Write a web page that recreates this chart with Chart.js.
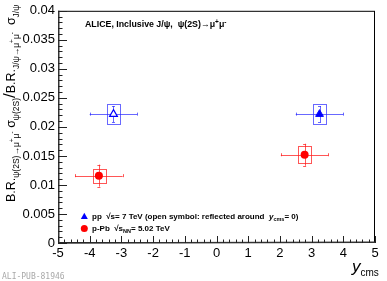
<!DOCTYPE html>
<html><head><meta charset="utf-8">
<script src="https://cdn.jsdelivr.net/npm/chart.js@4/dist/chart.umd.min.js"></script>
<style>html,body{margin:0;padding:0;background:#fff}#c{display:block}</style>
</head><body>
<canvas id="c" width="387" height="281"></canvas>
<script>
// ---- data ----
const ppX      = [-3.25, 3.25];
const ppY      = [0.0222, 0.0222];
const ppStat   = [0.0014, 0.0014];
const ppSyst   = [0.0017, 0.0017];
const ppXLow   = [-4.0, 2.5];
const ppXHigh  = [-2.5, 4.0];
const pPbX     = [-3.71, 2.78];
const pPbY     = [0.0116, 0.0152];
const pPbStat  = [0.0019, 0.0019];
const pPbSyst  = [0.0012, 0.0015];
const pPbXLow  = [-4.46, 2.03];
const pPbXHigh = [-2.96, 3.53];
const systHalfWidth = 0.2;
const xTickValues = [-5,-4,-3,-2,-1,0,1,2,3,4,5];
const yTickValues = [0,0.005,0.01,0.015,0.02,0.025,0.03,0.035,0.04];

const BLUE='#0000ff', BLUEL='rgba(40,40,255,0.7)';
const RED='#ff0000', REDL='rgba(255,30,30,0.75)';
const FONT='"Liberation Sans", Arial, Helvetica, sans-serif';

function seriesPoints(xs, ys){return xs.map((x,i)=>({x:x,y:ys[i]}));}

const errPlugin = {
  id:'err',
  beforeDatasetsDraw(chart){
    const ctx=chart.ctx, xs=chart.scales.x, ys=chart.scales.y;
    function drawSet(X,Y,st,sy,xl,xh,col){
      ctx.save();
      ctx.strokeStyle=col; ctx.lineWidth=1;
      for(let i=0;i<X.length;i++){
        const px=xs.getPixelForValue(X[i]), py=ys.getPixelForValue(Y[i]);
        const bx0=xs.getPixelForValue(X[i]-systHalfWidth), bx1=xs.getPixelForValue(X[i]+systHalfWidth);
        const by0=ys.getPixelForValue(Y[i]+sy[i]), by1=ys.getPixelForValue(Y[i]-sy[i]);
        ctx.strokeRect(Math.round(bx0)+0.5, Math.round(by0)+0.5, Math.round(bx1-bx0), Math.round(by1-by0));
        const hx0=xs.getPixelForValue(xl[i]), hx1=xs.getPixelForValue(xh[i]);
        ctx.beginPath();
        ctx.moveTo(hx0, Math.round(py)+0.5); ctx.lineTo(hx1, Math.round(py)+0.5);
        ctx.moveTo(Math.round(hx0)+0.5, py-1.5); ctx.lineTo(Math.round(hx0)+0.5, py+1.5);
        ctx.moveTo(Math.round(hx1)+0.5, py-1.5); ctx.lineTo(Math.round(hx1)+0.5, py+1.5);
        const vy0=ys.getPixelForValue(Y[i]+st[i]), vy1=ys.getPixelForValue(Y[i]-st[i]);
        ctx.moveTo(Math.round(px)+0.5, vy0); ctx.lineTo(Math.round(px)+0.5, vy1);
        ctx.moveTo(px-1.5, Math.round(vy0)+0.5); ctx.lineTo(px+1.5, Math.round(vy0)+0.5);
        ctx.moveTo(px-1.5, Math.round(vy1)+0.5); ctx.lineTo(px+1.5, Math.round(vy1)+0.5);
        ctx.stroke();
      }
      ctx.restore();
    }
    drawSet(ppX,ppY,ppStat,ppSyst,ppXLow,ppXHigh,BLUEL);
    drawSet(pPbX,pPbY,pPbStat,pPbSyst,pPbXLow,pPbXHigh,REDL);
  }
};

function drawRich(ctx, parts, x, y){
  let cx=x;
  for(const p of parts){
    ctx.font=(p[4]||'')+' '+(p[3]||'normal')+' '+p[1]+'px '+FONT;
    ctx.fillText(p[0], cx, y+(p[2]||0));
    cx+=ctx.measureText(p[0]).width;
  }
  return cx-x;
}
function measureRich(ctx, parts){
  let w=0;
  for(const p of parts){ctx.font=(p[4]||'')+' '+(p[3]||'normal')+' '+p[1]+'px '+FONT; w+=ctx.measureText(p[0]).width;}
  return w;
}

const decoPlugin = {
  id:'deco',
  afterDraw(chart){
    const ctx=chart.ctx, a=chart.chartArea, xs=chart.scales.x, ys=chart.scales.y;
    ctx.save();
    ctx.strokeStyle='#000'; ctx.lineWidth=1;
    ctx.strokeRect(a.left+0.5, a.top+0.5, a.right-a.left-1, a.bottom-a.top-1);
    ctx.strokeStyle='#333'; ctx.lineWidth=1.5;
    ctx.beginPath(); ctx.moveTo(a.left+0.75,a.top); ctx.lineTo(a.left+0.75,a.bottom); ctx.lineTo(a.right,a.bottom-0.75); ctx.stroke();
    ctx.lineWidth=1; ctx.strokeStyle='#222';
    ctx.beginPath();
    for(let v=-5; v<=5.0001; v+=0.2){
      const major=Math.abs(v-Math.round(v))<1e-6;
      const px=Math.round(xs.getPixelForValue(v))+0.5;
      ctx.moveTo(px,a.bottom); ctx.lineTo(px,a.bottom-(major?7:3.5));
    }
    for(let k=0;k<=40;k++){
      const v=k*0.001, major=(k%5===0);
      const py=Math.round(ys.getPixelForValue(v))+0.5;
      ctx.moveTo(a.left,py); ctx.lineTo(a.left+(major?9:4.5),py);
    }
    ctx.stroke();

    ctx.fillStyle='#000'; ctx.textBaseline='alphabetic'; ctx.textAlign='left';
    drawRich(ctx,[['ALICE, Inclusive J/ψ,  ψ(2S)→μ',8.8,0,'bold'],['+',6.5,-3,'bold'],['μ',8.8,0,'bold'],['-',6.5,-3,'bold']],85,27);
    const lx=xs.getPixelForValue(-4.17);
    const ly1=ys.getPixelForValue(0.0046), ly2=ys.getPixelForValue(0.0025);
    ctx.fillStyle=BLUE;
    ctx.beginPath(); ctx.moveTo(lx,ly1-3.5); ctx.lineTo(lx+3.5,ly1+2.8); ctx.lineTo(lx-3.5,ly1+2.8); ctx.closePath(); ctx.fill();
    ctx.fillStyle=RED;
    ctx.beginPath(); ctx.arc(lx,ly2,3.5,0,Math.PI*2); ctx.fill();
    ctx.fillStyle='#000';
    drawRich(ctx,[['pp  √s= 7 TeV (open symbol: reflected around  ',8,0,'bold'],['y',8,0,'bold','italic'],['cms',5.5,2,'bold'],['= 0)',8,0,'bold']],92,ly1+3);
    drawRich(ctx,[['p-Pb  √',8,0,'bold'],['s',8,0,'bold'],['NN',5.5,2,'bold'],['= 5.02 TeV',8,0,'bold']],92,ly2+3);
    drawRich(ctx,[['y',17,0,'normal','italic'],['cms',10,4,'normal']],352,272);
    const yparts=[['B.R.',12.5,0],['ψ(2S)→μ',8.5,4],['+',6.5,-1],['μ',8.5,4],['-',6.5,-1],[' σ',12.5,0],['ψ(2S)',8.5,4],['/',17,0],['B.R.',12.5,0],['J/ψ→μ',8.5,4],['+',6.5,-1],['μ',8.5,4],['-',6.5,-1],['  σ',12.5,0],['J/ψ',8.5,4]];
    const w=measureRich(ctx,yparts);
    ctx.save();
    ctx.translate(15, 202); ctx.rotate(-Math.PI/2);
    drawRich(ctx,yparts,0,0);
    ctx.restore();
    ctx.fillStyle='#a8a8a8'; ctx.font='8px "DejaVu Sans Mono", monospace';
    ctx.fillText('ALI-PUB-81946',2,279);
    ctx.restore();
  }
};

new Chart(document.getElementById('c'),{
  type:'scatter',
  data:{datasets:[
    {label:'pp reflected', data:seriesPoints([ppX[0]],[ppY[0]]), pointStyle:'triangle', pointRadius:4.5, backgroundColor:'#fff', borderColor:BLUE, borderWidth:1.2},
    {label:'pp', data:seriesPoints([ppX[1]],[ppY[1]]), pointStyle:'triangle', pointRadius:4.5, backgroundColor:BLUE, borderColor:BLUE, borderWidth:1},
    {label:'p-Pb', data:seriesPoints(pPbX,pPbY), pointStyle:'circle', pointRadius:4, backgroundColor:RED, borderColor:RED, borderWidth:0}
  ]},
  options:{
    responsive:false, animation:false, devicePixelRatio:1,
    layout:{padding:{left:0,right:12,top:8,bottom:0}},
    plugins:{legend:{display:false},tooltip:{enabled:false}},
    scales:{
      x:{type:'linear',min:-5,max:5,
        afterFit(s){s.height=38;},
        afterBuildTicks(s){s.ticks=xTickValues.map(v=>({value:v}));},
        grid:{display:false,drawTicks:false}, border:{display:false},
        ticks:{padding:3,color:'#000',font:{family:FONT,size:13},maxRotation:0,autoSkip:false,callback:v=>String(v)}},
      y:{type:'linear',min:0,max:0.04,
        afterFit(s){s.width=58;},
        afterBuildTicks(s){s.ticks=yTickValues.map(v=>({value:v}));},
        grid:{display:false,drawTicks:false}, border:{display:false},
        ticks:{padding:3,color:'#000',font:{family:FONT,size:13},autoSkip:false,callback:v=>String(+v.toFixed(3))}}
    }
  },
  plugins:[errPlugin,decoPlugin]
});
</script>
</body></html>
